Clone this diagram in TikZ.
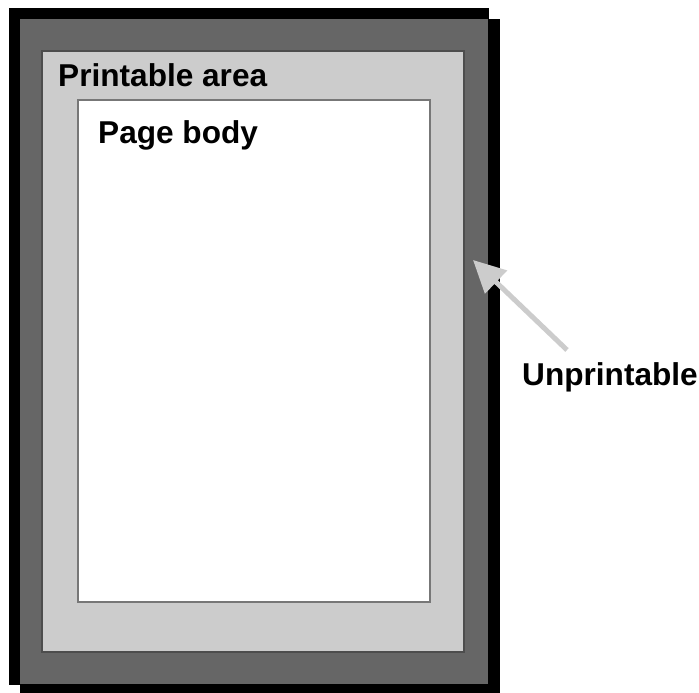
\documentclass[tikz,border=0pt]{standalone}
\usepackage{fontspec}
\setmainfont{Liberation Sans}
\usepackage{xcolor}
\usepackage{tikz}
\usetikzlibrary{arrows.meta, positioning, calc}
\definecolor{sheetdark}{HTML}{666666}
\definecolor{sheetlight}{HTML}{CCCCCC}
\definecolor{edgedark}{HTML}{4D4D4D}
\definecolor{edgebody}{HTML}{777777}
\definecolor{pointergrey}{HTML}{CCCCCC}

\begin{document}
\begin{tikzpicture}[x=1pt, y=-1pt,
    every node/.style={font=\fontsize{31.6}{36}\selectfont\bfseries, inner sep=0pt},
    shadowbox/.style={fill=black},
    unprintable/.style={fill=sheetdark},
    printable/.style={fill=sheetlight, draw=edgedark, line width=1.5pt},
    pagebody/.style={fill=white, draw=edgebody, line width=1.5pt},
    pointer/.style={
        draw=pointergrey, line width=5pt,
        -{Triangle[length=32pt, width=31pt]},
    },
]
\useasboundingbox (0,0) rectangle (699,693);

% ── Sheet with its black rim and shadow ───────────────────────────────
\fill[shadowbox] (9,8) rectangle (489,685);
\fill[shadowbox] (20,19) rectangle (500,693);
\fill[unprintable] (20,19) rectangle (488,684);

% ── Printable area and page body ──────────────────────────────────────
\path[printable] (42,51) rectangle (464,652);
\node[anchor=base west] (printlbl) at (58,87) {Printable area};

\path[pagebody] (78,100) rectangle (430,602);
\node[anchor=base west] (bodylbl) at (98,143) {Page body};

% ── Pointer to the unprintable rim ────────────────────────────────────
\node[anchor=base west] (rimlbl) at (522,385) {Unprintable};
\coordinate (rimtail) at (567,350);
\coordinate (rimtip) at (473,260);
\draw[pointer] (rimtail) -- (rimtip);

\end{tikzpicture}
\end{document}
